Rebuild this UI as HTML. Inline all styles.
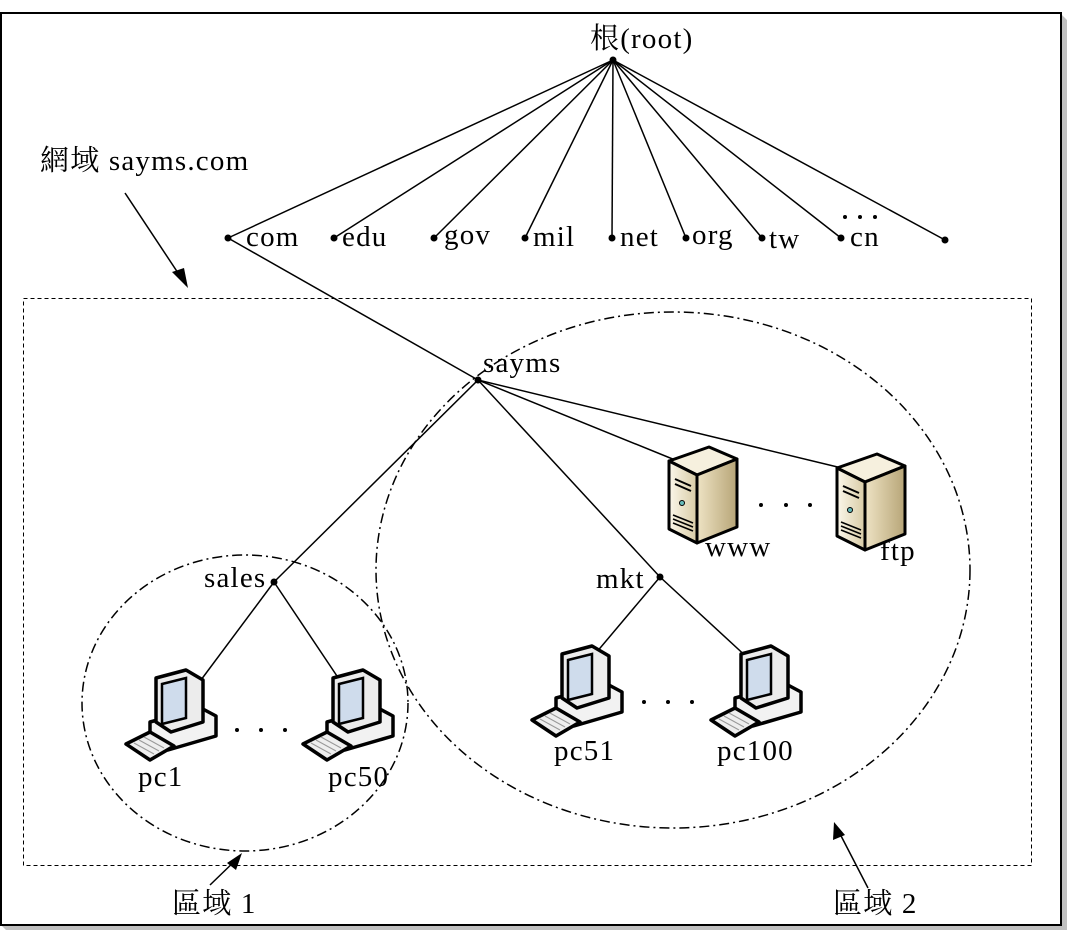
<!DOCTYPE html>
<html><head><meta charset="utf-8"><style>
html,body{margin:0;padding:0;background:#fff;}
svg{display:block;}
text{font-family:"Liberation Serif","Noto Serif CJK SC","Noto Sans CJK TC",serif;font-size:29px;letter-spacing:1.2px;fill:#000;}
</style></head><body>
<svg width="1067" height="932" viewBox="0 0 1067 932" xmlns="http://www.w3.org/2000/svg">
<defs>
<linearGradient id="sf" x1="0" x2="1"><stop offset="0" stop-color="#fbf7ea"/><stop offset="1" stop-color="#d8cba5"/></linearGradient>
<linearGradient id="ss" x1="0" x2="1"><stop offset="0" stop-color="#eee3c4"/><stop offset="1" stop-color="#b7a577"/></linearGradient>
<g id="srv">
<polygon points="2,18 42,4 70,16 30,32" fill="#f6f0de" stroke="#000" stroke-width="3" stroke-linejoin="round"/>
<polygon points="2,18 30,32 30,100 2,86" fill="url(#sf)" stroke="#000" stroke-width="3" stroke-linejoin="round"/>
<polygon points="30,32 70,16 70,84 30,100" fill="url(#ss)" stroke="#000" stroke-width="3" stroke-linejoin="round"/>
<line x1="8" y1="36" x2="24" y2="43" stroke="#000" stroke-width="2"/>
<line x1="8" y1="41" x2="24" y2="48" stroke="#000" stroke-width="2"/>
<circle cx="15" cy="60" r="2.5" fill="#6bb" stroke="#000"/>
<line x1="6" y1="72" x2="26" y2="80" stroke="#000" stroke-width="1.5"/>
<line x1="6" y1="76" x2="26" y2="84" stroke="#000" stroke-width="1.5"/>
<line x1="6" y1="80" x2="26" y2="88" stroke="#000" stroke-width="1.5"/>
</g>
<g id="pc">
<polygon points="24,52 75,38 90,46 90,66 42,80 24,70" fill="#f2f2f2" stroke="#000" stroke-width="3.5" stroke-linejoin="round"/>
<polygon points="30,8 60,0 77,10 77,52 45,62 30,52" fill="#ececec" stroke="#000" stroke-width="3.5" stroke-linejoin="round"/>
<polygon points="36,14 60,8 60,48 36,54" fill="#cfdcec" stroke="#000" stroke-width="2.5"/>
<polygon points="0,74 24,62 48,76 24,90" fill="#eee" stroke="#000" stroke-width="3.5" stroke-linejoin="round"/>
<line x1="8" y1="73" x2="28" y2="84" stroke="#999" stroke-width="1"/>
<line x1="13" y1="70" x2="33" y2="81" stroke="#999" stroke-width="1"/>
<line x1="18" y1="67" x2="38" y2="78" stroke="#999" stroke-width="1"/>
</g>
</defs>
<polygon points="1061,14 1067,20 1067,930 6,930 1,925 1061,925" fill="#c0c0c0"/>
<rect x="1" y="13" width="1060" height="912" fill="#fff" stroke="#000" stroke-width="2"/>
<rect x="23.5" y="298.5" width="1008" height="567" fill="none" stroke="#000" stroke-width="1" stroke-dasharray="4,3"/>
<ellipse cx="673" cy="570" rx="297" ry="258" fill="none" stroke="#000" stroke-width="1.5" stroke-dasharray="10,4,2,4"/>
<ellipse cx="245" cy="703" rx="163" ry="148" fill="none" stroke="#000" stroke-width="1.5" stroke-dasharray="10,4,2,4"/>
<g stroke="#000" stroke-width="1.5">
<line x1="613" y1="60" x2="228" y2="238"/><line x1="613" y1="60" x2="334" y2="238"/>
<line x1="613" y1="60" x2="434" y2="238"/><line x1="613" y1="60" x2="525" y2="238"/>
<line x1="613" y1="60" x2="612" y2="238"/><line x1="613" y1="60" x2="686" y2="238"/>
<line x1="613" y1="60" x2="762" y2="238"/><line x1="613" y1="60" x2="841" y2="238"/>
<line x1="613" y1="60" x2="945" y2="240"/>
<line x1="228" y1="238" x2="478" y2="380"/>
<line x1="478" y1="380" x2="274" y2="582"/>
<line x1="478" y1="380" x2="660" y2="577"/>
<line x1="478" y1="380" x2="680" y2="462"/>
<line x1="478" y1="380" x2="850" y2="470"/>
<line x1="274" y1="582" x2="195" y2="688"/>
<line x1="274" y1="582" x2="345" y2="688"/>
<line x1="660" y1="577" x2="590" y2="660"/>
<line x1="660" y1="577" x2="750" y2="660"/>
<line x1="125" y1="193" x2="186" y2="285"/>
<line x1="210" y1="885" x2="240" y2="856"/>
<line x1="868" y1="888" x2="838" y2="830"/>
</g>
<g fill="#000">
<polygon points="188,288 172,272 184,268"/>
<polygon points="242,853 227,863 236,870"/>
<polygon points="834,822 833,840 845,835"/>
<circle cx="613" cy="60" r="3.5"/><circle cx="228" cy="238" r="3.5"/><circle cx="334" cy="238" r="3.5"/>
<circle cx="434" cy="238" r="3.5"/><circle cx="525" cy="238" r="3.5"/><circle cx="612" cy="238" r="3.5"/>
<circle cx="686" cy="238" r="3.5"/><circle cx="762" cy="238" r="3.5"/><circle cx="841" cy="238" r="3.5"/>
<circle cx="945" cy="240" r="3.5"/><circle cx="478" cy="380" r="3.5"/><circle cx="274" cy="582" r="3.5"/>
<circle cx="660" cy="577" r="3.5"/>
<circle cx="845" cy="217" r="2"/><circle cx="860" cy="217" r="2"/><circle cx="875" cy="217" r="2"/>
<circle cx="761" cy="505" r="2"/><circle cx="786" cy="505" r="2"/><circle cx="810" cy="505" r="2"/>
<circle cx="237" cy="730" r="2"/><circle cx="261" cy="730" r="2"/><circle cx="285" cy="730" r="2"/>
<circle cx="644" cy="702" r="2"/><circle cx="668" cy="702" r="2"/><circle cx="692" cy="702" r="2"/>
</g>
<use href="#srv" x="667" y="443"/>
<use href="#srv" x="835" y="450"/>
<use href="#pc" x="126" y="670"/>
<use href="#pc" x="303" y="670"/>
<use href="#pc" x="532" y="646"/>
<use href="#pc" x="711" y="646"/>
<text x="590" y="48">根(root)</text>
<text x="40" y="170">網域 sayms.com</text>
<text x="246" y="246">com</text><text x="342" y="246">edu</text><text x="444" y="244">gov</text>
<text x="533" y="246">mil</text><text x="620" y="246">net</text><text x="692" y="244">org</text>
<text x="769" y="248">tw</text><text x="850" y="246">cn</text>
<text x="483" y="372">sayms</text>
<text x="204" y="587">sales</text>
<text x="596" y="588">mkt</text>
<text x="705" y="556">www</text>
<text x="880" y="560">ftp</text>
<text x="138" y="786">pc1</text><text x="328" y="786">pc50</text>
<text x="554" y="760">pc51</text><text x="717" y="760">pc100</text>
<text x="172" y="913">區域 1</text>
<text x="833" y="913">區域 2</text>
</svg>
</body></html>
